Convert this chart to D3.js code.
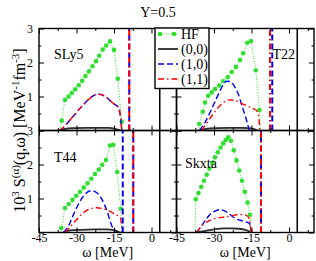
<!DOCTYPE html>
<html>
<head>
<meta charset="utf-8">
<script src="https://cdn.jsdelivr.net/npm/d3@7"></script>
<style>
  html, body { margin: 0; padding: 0; background: #fff; }
  svg { display: block; }
  text { font-family: "Liberation Serif", "DejaVu Serif", serif; fill: #000; }
</style>
</head>
<body>
<svg id="chart" width="316" height="261"></svg>
<script>
// Panel names and legend labels
const panelNames = ['SLy5', 'T22', 'T44', 'Skxta'];
const legendLabels = ['HF', '(0,0)', '(1,0)', '(1,1)'];

// Axis ticks
const xMajorTicks = [-45, -30, -15, 0];
const xMinorTicks = [-37.5, -22.5, -7.5, 7.5];
const yMajorTicks = [0, 1, 2, 3];
const yMinorTicks = [0.5, 1.5, 2.5];
const yTickLabels = [1, 2, 3];

// HF response [omega, S]
const hfSLy5 = [[-36.8, 0], [-35.9, 0.29], [-34.6, 0.90], [-33.2, 1.00], [-31.9, 1.10], [-30.5, 1.21], [-29.1, 1.33],
    [-27.7, 1.46], [-26.4, 1.60], [-25.0, 1.74], [-23.6, 1.89], [-22.2, 2.04], [-20.9, 2.20], [-19.5, 2.38],
    [-18.1, 2.50], [-16.6, 2.62], [-15.0, 2.37], [-13.5, 1.52], [-11.9, 0.26], [-11.6, 0]];
const hfT22 = [[-36.3, 0], [-35.9, 0.19], [-34.5, 0.55], [-33.6, 0.82], [-32.3, 1.02], [-30.9, 1.12], [-29.6, 1.22],
    [-27.9, 1.32], [-26.3, 1.45], [-24.5, 1.57], [-22.9, 1.72], [-21.2, 1.87], [-19.6, 2.07], [-18.3, 2.27],
    [-16.7, 2.58], [-15.2, 2.63], [-13.3, 1.77], [-11.8, 0.60], [-11.4, 0]];
const hfT44 = [[-36.5, 0], [-36.1, 0.13], [-34.6, 0.72], [-33.1, 0.84], [-31.6, 0.96], [-30.1, 1.08], [-28.6, 1.20],
    [-27.1, 1.32], [-25.6, 1.45], [-24.1, 1.58], [-22.6, 1.72], [-21.1, 1.85], [-19.7, 1.99], [-18.2, 2.13],
    [-16.6, 2.56], [-15.3, 2.58], [-13.7, 1.78], [-12.3, 0.70], [-11.8, 0]];
const hfSkxta = [[-37.6, 0], [-37.3, 0.98], [-36.2, 1.16], [-35.1, 1.34], [-34.0, 1.52], [-32.9, 1.70], [-31.8, 1.88],
    [-30.7, 2.05], [-29.6, 2.21], [-28.5, 2.36], [-27.4, 2.50], [-26.3, 2.62], [-25.3, 2.72], [-24.3, 2.80],
    [-23.2, 2.70], [-22.1, 2.42], [-21.0, 2.12], [-19.9, 1.82], [-18.8, 1.52], [-17.7, 1.20], [-16.6, 0.88],
    [-15.6, 0.52], [-15.0, 0]];

// (0,0) channel
const s00SLy5 = [[-37, 0], [-34.5, 0.05], [-31, 0.07], [-26, 0.08], [-21, 0.08], [-17, 0.08], [-14.5, 0.05], [-12.5, 0]];
const s00T22 = [[-35.8, 0], [-33, 0.05], [-29, 0.07], [-24, 0.08], [-19, 0.08], [-16, 0.07], [-14, 0.04], [-12.5, 0]];
const s00T44 = [[-35.5, 0], [-32.5, 0.06], [-28, 0.08], [-23, 0.09], [-18, 0.09], [-15, 0.07], [-13.5, 0.03], [-12.5, 0]];
const s00Skxta = [[-37.5, 0], [-34, 0.04], [-30, 0.09], [-26, 0.12], [-23, 0.12], [-20, 0.11], [-17.5, 0.08], [-15, 0]];

// (1,0) channel
const s10SLy5 = [[-36.8, 0], [-34.6, 0.14], [-32.6, 0.31], [-30.6, 0.48], [-28.6, 0.65], [-26.6, 0.81], [-24.6, 0.95],
    [-22.8, 1.04], [-21.3, 1.07], [-19.6, 1.04], [-17.9, 0.97], [-16.3, 0.86], [-14.6, 0.76], [-13.3, 0.69],
    [-12.6, 0.5], [-12.2, 0.25], [-11.9, 0]];
const s10T22 = [[-35.9, 0], [-33.5, 0.25], [-31.6, 0.53], [-29.6, 0.85], [-27.9, 1.12], [-26.4, 1.33], [-24.9, 1.45],
    [-23.5, 1.44], [-22.0, 1.32], [-20.3, 1.07], [-18.9, 0.75], [-17.6, 0.45], [-16.6, 0.2], [-15.9, 0]];
const s10T44 = [[-35.3, 0], [-33.3, 0.18], [-31.3, 0.51], [-29.6, 0.78], [-27.9, 1.0], [-26.3, 1.15], [-24.3, 1.23],
    [-22.6, 1.20], [-20.6, 1.07], [-19.0, 0.85], [-17.7, 0.61], [-16.4, 0.30], [-15.3, 0.10], [-14.5, 0]];
const s10Skxta = [[-37.2, 0], [-35.3, 0.16], [-33.6, 0.34], [-31.6, 0.53], [-29.6, 0.63], [-27.6, 0.67], [-25.6, 0.63],
    [-23.6, 0.53], [-21.6, 0.42], [-19.6, 0.36], [-17.6, 0.32], [-15.9, 0.27], [-15.3, 0.1], [-14.9, 0]];

// (1,1) channel
const s11SLy5 = [[-36.8, 0], [-34.6, 0.14], [-32.6, 0.31], [-30.6, 0.48], [-28.6, 0.65], [-26.6, 0.81], [-24.6, 0.95],
    [-22.8, 1.04], [-21.3, 1.07], [-19.6, 1.04], [-17.9, 0.97], [-16.3, 0.86], [-14.6, 0.76], [-13.3, 0.69],
    [-12.6, 0.5], [-12.2, 0.25], [-11.9, 0]];
const s11T22 = [[-35.0, 0], [-32.6, 0.25], [-30.3, 0.49], [-28.3, 0.68], [-26.6, 0.80], [-24.3, 0.90], [-22.3, 0.89],
    [-20.3, 0.85], [-18.6, 0.78], [-16.9, 0.73], [-14.9, 0.66], [-12.9, 0.58], [-12.2, 0.45], [-11.7, 0]];
const s11T44 = [[-34.6, 0], [-32.3, 0.18], [-29.9, 0.38], [-27.9, 0.54], [-25.9, 0.65], [-23.9, 0.71], [-21.9, 0.73],
    [-19.9, 0.71], [-17.9, 0.67], [-15.6, 0.58], [-13.6, 0.50], [-12.4, 0.42], [-12.0, 0.2], [-11.8, 0]];
const s11Skxta = [[-36.8, 0], [-34.3, 0.25], [-32.3, 0.33], [-30.3, 0.40], [-28.3, 0.43], [-26.3, 0.45], [-24.3, 0.47],
    [-22.3, 0.50], [-20.3, 0.53], [-18.6, 0.53], [-17.2, 0.51], [-15.9, 0.41], [-15.2, 0]];

// Collective (off-scale) peaks, omega positions
const peak00 = [[3.3], [3.3], [3.3], [3.3]];
const peak10 = [[-8.9], [-6.7], [-11.5, -7.3], [-11.2]];
const peak11 = [[-8.9], [-7.6], [-7.3], [-11.2]];

// Layout
const colX = [39, 176.5];
const rowY = [28.5, 130.5];
const panelW = 137.5;
const panelH = 102;
const xDomain = [-45, 10];
const yDomain = [0, 3];

const colors = { hf: '#2de02d', s00: '#2a2a2a', s10: '#0000ff', s11: '#ff0000' };

const panels = [
    { name: panelNames[0], col: 0, row: 0, hf: hfSLy5, s00: s00SLy5, s10: s10SLy5, s11: s11SLy5, label: [15, 30] },
    { name: panelNames[1], col: 1, row: 0, hf: hfT22, s00: s00T22, s10: s10T22, s11: s11T22, label: [96, 30] },
    { name: panelNames[2], col: 0, row: 1, hf: hfT44, s00: s00T44, s10: s10T44, s11: s11T44, label: [15, 31] },
    { name: panelNames[3], col: 1, row: 1, hf: hfSkxta, s00: s00Skxta, s10: s10Skxta, s11: s11Skxta, label: [8.5, 37] }
];
panels.forEach((p, i) => { p.p00 = peak00[i]; p.p10 = peak10[i]; p.p11 = peak11[i]; });

const svg = d3.select('#chart');
const defs = svg.append('defs');

function styleAxis(g) {
    g.select('.domain').remove();
    g.selectAll('line').attr('stroke', '#000').attr('stroke-width', 1);
    g.attr('font-family', '"Liberation Serif", "DejaVu Serif", serif').attr('font-size', 12);
}

function drawPanel(p, i) {
    const x0 = colX[p.col], y0 = rowY[p.row];
    const x = d3.scaleLinear().domain(xDomain).range([x0, x0 + panelW]);
    const y = d3.scaleLinear().domain(yDomain).range([y0 + panelH, y0]);

    defs.append('clipPath').attr('id', `clip-${i}`)
        .append('rect').attr('x', x0).attr('y', y0).attr('width', panelW).attr('height', panelH);

    const g = svg.append('g').attr('clip-path', `url(#clip-${i})`);

    const smooth = d3.line().x(d => x(d[0])).y(d => y(d[1])).curve(d3.curveMonotoneX);
    const straight = d3.line().x(d => x(d[0])).y(d => y(d[1]));

    // HF dotted line with dots
    g.append('path').attr('d', straight(p.hf)).attr('fill', 'none')
        .attr('stroke', colors.hf).attr('stroke-width', 1).attr('stroke-dasharray', '1,1.6');
    g.selectAll('circle.hf').data(p.hf.filter(d => d[1] > 0)).enter().append('circle')
        .attr('class', 'hf').attr('cx', d => x(d[0])).attr('cy', d => y(d[1])).attr('r', 2.3)
        .attr('fill', colors.hf);

    // (0,0)
    g.append('path').attr('d', smooth(p.s00)).attr('fill', 'none')
        .attr('stroke', colors.s00).attr('stroke-width', 1.8);
    // (1,0)
    g.append('path').attr('d', smooth(p.s10)).attr('fill', 'none')
        .attr('stroke', colors.s10).attr('stroke-width', 1.4).attr('stroke-dasharray', '6,3');
    // (1,1)
    g.append('path').attr('d', smooth(p.s11)).attr('fill', 'none')
        .attr('stroke', colors.s11).attr('stroke-width', 1.4).attr('stroke-dasharray', '6,3,1.5,3');

    // Off-scale peaks
    const vline = (sel, list, color, width, dash) => {
        sel.selectAll(null).data(list).enter().append('line')
            .attr('x1', d => x(d)).attr('x2', d => x(d))
            .attr('y1', y(yDomain[0])).attr('y2', y(yDomain[1]))
            .attr('stroke', color).attr('stroke-width', width)
            .attr('stroke-dasharray', dash);
    };
    vline(g, p.p00, '#000', 1.5, null);
    vline(g, p.p10, colors.s10, 2, '6,3');
    vline(g, p.p11, colors.s11, 2, '6,3,1.5,3');

    // Frame
    svg.append('rect').attr('x', x0).attr('y', y0).attr('width', panelW).attr('height', panelH)
        .attr('fill', 'none').attr('stroke', '#000').attr('stroke-width', 1.4);

    // Ticks
    const bottomLabels = p.row === 1;
    svg.append('g').attr('transform', `translate(0,${y0 + panelH})`)
        .call(d3.axisBottom(x).tickValues(xMajorTicks).tickSize(-5).tickPadding(0.5)
            .tickFormat(d => bottomLabels ? String(d) : ''))
        .call(styleAxis);
    svg.append('g').attr('transform', `translate(0,${y0 + panelH})`)
        .call(d3.axisBottom(x).tickValues(xMinorTicks).tickSize(-2.5).tickFormat(''))
        .call(styleAxis);
    svg.append('g').attr('transform', `translate(0,${y0})`)
        .call(d3.axisTop(x).tickValues(xMajorTicks).tickSize(-5).tickFormat(''))
        .call(styleAxis);
    svg.append('g').attr('transform', `translate(0,${y0})`)
        .call(d3.axisTop(x).tickValues(xMinorTicks).tickSize(-2.5).tickFormat(''))
        .call(styleAxis);

    const leftLabels = p.col === 0;
    svg.append('g').attr('transform', `translate(${x0},0)`)
        .call(d3.axisLeft(y).tickValues(yMajorTicks).tickSize(-5).tickPadding(6)
            .tickFormat(d => leftLabels && yTickLabels.includes(d) ? String(d) : ''))
        .call(styleAxis);
    svg.append('g').attr('transform', `translate(${x0},0)`)
        .call(d3.axisLeft(y).tickValues(yMinorTicks).tickSize(-2.5).tickFormat(''))
        .call(styleAxis);
    svg.append('g').attr('transform', `translate(${x0 + panelW},0)`)
        .call(d3.axisRight(y).tickValues(yMajorTicks).tickSize(-5).tickFormat(''))
        .call(styleAxis);
    svg.append('g').attr('transform', `translate(${x0 + panelW},0)`)
        .call(d3.axisRight(y).tickValues(yMinorTicks).tickSize(-2.5).tickFormat(''))
        .call(styleAxis);

    // Panel label
    svg.append('text').attr('x', x0 + p.label[0]).attr('y', y0 + p.label[1])
        .attr('font-size', 14).text(p.name);
}

panels.forEach(drawPanel);

// Legend
const legend = svg.append('g');
const lgX = 155, lgY = 28, lgW = 54, lgH = 60.5;
legend.append('rect').attr('x', lgX).attr('y', lgY).attr('width', lgW).attr('height', lgH)
    .attr('fill', '#fff').attr('stroke', '#000').attr('stroke-width', 1.4);
const legendStyles = [
    { color: colors.hf, width: 1, dash: '1,1.6', dots: true },
    { color: colors.s00, width: 1.8, dash: null },
    { color: colors.s10, width: 1.4, dash: '6,3' },
    { color: colors.s11, width: 1.4, dash: '6,3,1.5,3' }
];
legendLabels.forEach((lab, i) => {
    const cy = lgY + 6 + i * 15;
    const st = legendStyles[i];
    legend.append('line').attr('x1', lgX + 3).attr('x2', lgX + 23).attr('y1', cy).attr('y2', cy)
        .attr('stroke', st.color).attr('stroke-width', st.width).attr('stroke-dasharray', st.dash);
    if (st.dots) {
        [lgX + 5, lgX + 19].forEach(cx => {
            legend.append('circle').attr('cx', cx).attr('cy', cy).attr('r', 2.3).attr('fill', st.color);
        });
    }
    legend.append('text').attr('x', lgX + 26).attr('y', cy + 4.5).attr('font-size', 14).text(lab);
});

// Title
svg.append('text').attr('x', 158).attr('y', 17).attr('text-anchor', 'middle')
    .attr('font-size', 14).text('Y=0.5');

// X axis titles
[0, 1].forEach(c => {
    svg.append('text').attr('x', colX[c] + panelW / 2).attr('y', 256.5).attr('text-anchor', 'middle')
        .attr('font-size', 14).text('ω [MeV]');
});

// Y axis title with superscripts
const yLabelParts = [['10', false], ['3', true], [' S', false], ['(α)', true], ['(q,ω) [MeV', false],
    ['-1', true], ['fm', false], ['-3', true], [']', false]];
const yTitle = svg.append('text').attr('transform', `translate(25,${rowY[1]}) rotate(-90)`)
    .attr('text-anchor', 'middle').attr('font-size', 16);
let lifted = false;
yLabelParts.forEach(([t, sup]) => {
    const ts = yTitle.append('tspan').text(t);
    if (sup && !lifted) { ts.attr('dy', -6).attr('font-size', 11); lifted = true; }
    else if (sup) { ts.attr('font-size', 11); }
    else if (!sup && lifted) { ts.attr('dy', 6); lifted = false; }
});
</script>
</body>
</html>
